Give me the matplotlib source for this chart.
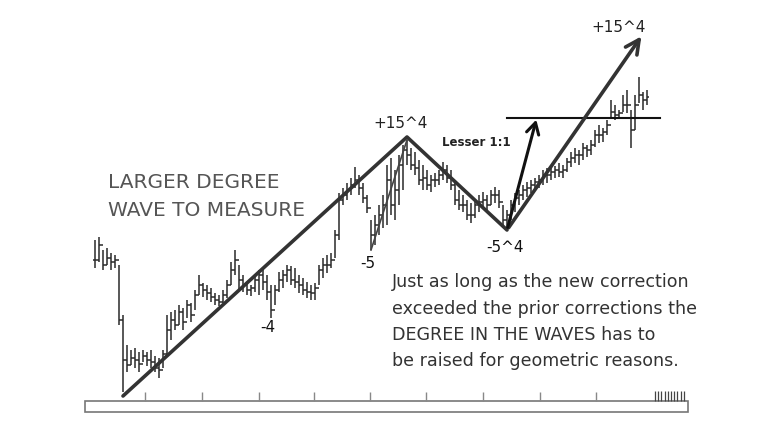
import numpy as np
import matplotlib
matplotlib.use("Agg")
import matplotlib.pyplot as plt
from matplotlib.patches import Rectangle

# bar highs / lows / closes (price units, one bar per session)
highs = [190, 193, 180, 182, 177, 175, 165, 115, 85, 80, 82, 78, 80, 78, 80, 74, 72, 80,
         115, 118, 120, 125, 122, 130, 127, 140, 155, 147, 145, 142, 137, 135, 140, 150,
         168, 180, 165, 155, 147, 145, 155, 160, 162, 155, 145, 145, 158, 160, 165, 164,
         162, 155, 152, 148, 145, 147, 165, 172, 175, 177, 200, 237, 242, 247, 252, 263,
         255, 247, 235, 210, 215, 225, 235, 265, 272, 260, 275, 285, 290, 282, 278, 270,
         265, 260, 255, 257, 260, 268, 265, 260, 247, 240, 235, 230, 227, 230, 235, 238,
         235, 240, 243, 240, 225, 220, 230, 237, 240, 245, 248, 250, 252, 255, 260, 262,
         265, 264, 267, 265, 272, 278, 282, 280, 287, 285, 290, 300, 305, 302, 310, 330,
         325, 320, 335, 340, 320, 335, 353, 338, 340]
lows = [162, 168, 160, 165, 160, 162, 105, 38, 58, 65, 62, 58, 68, 64, 62, 58, 52, 62,
        75, 90, 100, 105, 100, 112, 108, 120, 135, 133, 130, 128, 125, 124, 127, 132,
        145, 155, 140, 138, 135, 134, 138, 135, 140, 130, 112, 125, 138, 142, 148, 145,
        142, 137, 135, 132, 130, 130, 145, 152, 157, 162, 172, 190, 225, 230, 235, 242,
        235, 227, 217, 180, 185, 195, 202, 205, 215, 210, 225, 240, 265, 260, 255, 245,
        240, 240, 238, 243, 245, 250, 247, 240, 225, 220, 218, 210, 207, 212, 218, 222,
        217, 225, 227, 222, 205, 200, 210, 218, 225, 230, 233, 237, 240, 242, 245, 247,
        250, 252, 253, 252, 258, 263, 267, 265, 270, 273, 275, 283, 287, 288, 295, 312,
        310, 313, 318, 317, 282, 300, 327, 320, 325]
closes = [170, 185, 165, 172, 168, 170, 110, 70, 65, 72, 70, 66, 74, 70, 68, 62, 60, 76,
          100, 110, 105, 118, 108, 125, 115, 135, 145, 140, 137, 133, 130, 128, 135, 145,
          160, 170, 150, 145, 140, 142, 150, 155, 148, 138, 120, 140, 150, 155, 160, 150,
          148, 145, 140, 138, 137, 142, 160, 165, 165, 170, 195, 230, 235, 240, 245, 250,
          242, 232, 222, 195, 205, 215, 225, 250, 225, 240, 265, 280, 275, 265, 262, 250,
          252, 245, 250, 250, 255, 260, 252, 245, 230, 225, 225, 215, 215, 225, 228, 230,
          225, 235, 235, 228, 210, 215, 225, 232, 235, 240, 242, 245, 248, 250, 255, 255,
          258, 260, 258, 260, 268, 272, 275, 275, 282, 280, 285, 295, 295, 298, 305, 318,
          315, 317, 325, 325, 300, 325, 335, 330, 333]

# wave drawing (bar index, price)
wave_x = [7, 78, 103]
wave_y = [34, 293, 200]
big_tip = (137, 396)
lesser_tip = (110.5, 313)
inner_x = [69, 78]
inner_y = [180, 290]
target_level = 312
target_x = [103, 141.3]

# time axis ticks
tick_pos = [12.5, 26.75, 41, 54.75, 68.75, 82.75, 97, 111.25, 125.25]
dense_ticks = [140, 140.8, 141.6, 142.4, 143.2, 144, 144.8, 145.6, 146.4, 147.2]

note = ["Just as long as the new correction",
        "exceeded the prior corrections the",
        "DEGREE IN THE WAVES has to",
        "be raised for geometric reasons."]

fig = plt.figure(figsize=(7.58, 4.30), dpi=100)
ax = fig.add_axes([0, 0, 1, 1])
ax.set_xlim(-23.75, 165.75)
ax.set_ylim(0, 430)
ax.axis("off")

idx = np.arange(len(highs))
opens = [closes[0]] + closes[:-1]
bar_col = "#2a2a2a"
ax.vlines(idx, lows, highs, color=bar_col, lw=1.1)
ax.hlines(opens, idx - 0.45, idx, color=bar_col, lw=1.1)
ax.hlines(closes, idx, idx + 0.45, color=bar_col, lw=1.1)

# larger degree wave
ax.plot(wave_x, wave_y, color="#333333", lw=2.6, solid_capstyle="round", solid_joinstyle="round")
ax.annotate("", xy=big_tip, xytext=(wave_x[2], wave_y[2]),
            arrowprops=dict(arrowstyle="->,head_length=1.0,head_width=0.5", color="#333333", lw=2.6))
ax.annotate("", xy=lesser_tip, xytext=(wave_x[2], wave_y[2]),
            arrowprops=dict(arrowstyle="->,head_length=0.8,head_width=0.45", color="#111111", lw=2.2))
ax.plot(inner_x, inner_y, color="#444444", lw=1.2)
ax.plot(target_x, [target_level, target_level], color="#111111", lw=1.5)

# bottom time bar
ax.add_patch(Rectangle((-2.5, 18), 150.75, 11, facecolor="white", edgecolor="#777777", lw=1.2))
ax.vlines(tick_pos, 29, 38, color="#888888", lw=1)
ax.vlines(dense_ticks, 29, 39, color="#444444", lw=0.9)

# labels
ax.text(76.3, 306, "+15^4", ha="center", va="center", fontsize=11, color="#222222")
ax.text(131, 402, "+15^4", ha="center", va="center", fontsize=11, color="#222222")
ax.text(95.25, 287, "Lesser 1:1", ha="center", va="center", fontsize=8.5, fontweight="bold", color="#222222")
ax.text(43.25, 102, "-4", ha="center", va="center", fontsize=11, color="#111111")
ax.text(68.25, 166, "-5", ha="center", va="center", fontsize=11, color="#111111")
ax.text(102.5, 182, "-5^4", ha="center", va="center", fontsize=11, color="#111111")
ax.text(3.25, 247, "LARGER DEGREE", ha="left", va="center", fontsize=14.5, color="#555555")
ax.text(3.25, 219, "WAVE TO MEASURE", ha="left", va="center", fontsize=14.5, color="#555555")
for k, line in enumerate(note):
    ax.text(74.25, 148 - 26.5 * k, line, ha="left", va="center", fontsize=12.6, color="#333333")

fig.savefig("out.png", dpi=100, facecolor="white")
